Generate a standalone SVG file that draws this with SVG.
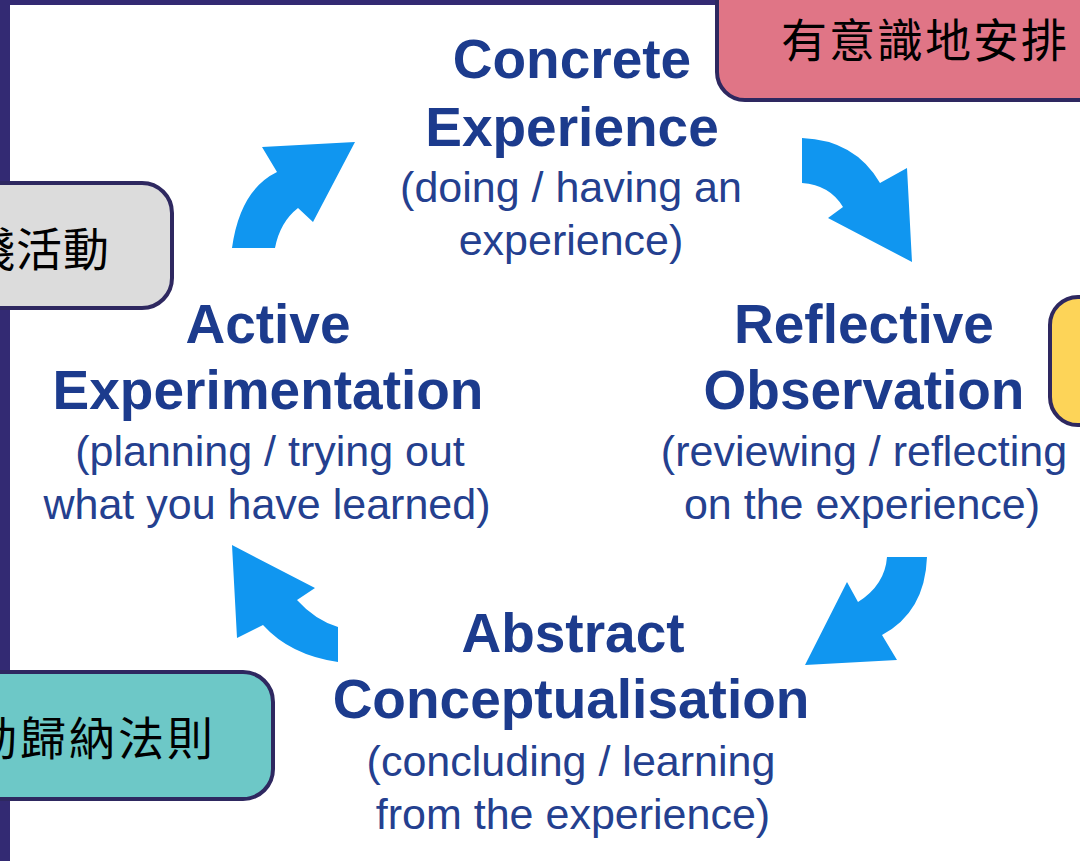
<svg xmlns="http://www.w3.org/2000/svg" width="1080" height="861" viewBox="0 0 1080 861">
<style>
.t{font-family:"Liberation Sans",Arial,sans-serif;font-weight:bold;font-size:55px;fill:#1c3b8d;text-anchor:middle}
.s{font-family:"Liberation Sans",Arial,sans-serif;font-size:43px;fill:#24408f;text-anchor:middle}
.box{stroke:#2e2860;stroke-width:4}
.cjk{font-family:"Noto Sans CJK TC","Noto Sans CJK SC",sans-serif;font-size:46px;fill:#000}
.arr{fill:#1096f0}
</style>
<rect width="1080" height="861" fill="#ffffff"/>
<rect x="0" y="0" width="1080" height="5" fill="#332a73"/>
<rect x="0" y="0" width="10" height="861" fill="#332a73"/>
<g id="connectors">
<path class="arr" d="M355,142 L262,147 L277,172 Q240,190 232,248 L275,248 Q280,222 298,208 L313,222 Z"/>
<path class="arr" d="M802,138 Q855,140 880,183 L907,168 L912,262 L828,218 L843,207 Q830,185 802,183 Z"/>
<path class="arr" d="M887,557 L927,557 Q925,612 882,635 L897,660 L805,665 L847,582 L858,602 Q885,585 887,557 Z"/>
<path class="arr" d="M232,545 L315,588 L297,600 Q315,620 338,627 L338,662 Q290,655 263,625 L237,638 Z"/>
</g>
<g id="concrete">
<text class="t" x="572" y="78">Concrete</text>
<text class="t" x="572" y="146">Experience</text>
<text class="s" x="571" y="202">(doing / having an</text>
<text class="s" x="571" y="255">experience)</text>
</g>
<g id="reflective">
<text class="t" x="864" y="343">Reflective</text>
<text class="t" x="864" y="409">Observation</text>
<text class="s" x="864" y="466">(reviewing / reflecting</text>
<text class="s" x="862" y="519">on the experience)</text>
</g>
<g id="active">
<text class="t" x="268" y="343">Active</text>
<text class="t" x="268" y="409">Experimentation</text>
<text class="s" x="270" y="466">(planning / trying out</text>
<text class="s" x="267" y="519">what you have learned)</text>
</g>
<g id="abstract">
<text class="t" x="573" y="652">Abstract</text>
<text class="t" x="571" y="718">Conceptualisation</text>
<text class="s" x="571" y="776">(concluding / learning</text>
<text class="s" x="573" y="829">from the experience)</text>
</g>
<g id="note-pink">
<rect class="box" x="717" y="-30" width="420" height="130" rx="28" fill="#e07586"/>
<text class="cjk" x="781" y="57" letter-spacing="2">有意識地安排</text>
</g>
<g id="note-gray">
<rect class="box" x="-40" y="183" width="212" height="125" rx="30" fill="#dcdcdc"/>
<text class="cjk" x="110" y="266" text-anchor="end" letter-spacing="1">踐活動</text>
</g>
<g id="note-yellow">
<rect class="box" x="1050" y="297" width="100" height="128" rx="28" fill="#fdd458"/>
</g>
<g id="note-teal">
<rect class="box" x="-40" y="672" width="313" height="127" rx="30" fill="#6dc8c7"/>
<text class="cjk" x="216" y="755" text-anchor="end" letter-spacing="3">動歸納法則</text>
</g>
</svg>
